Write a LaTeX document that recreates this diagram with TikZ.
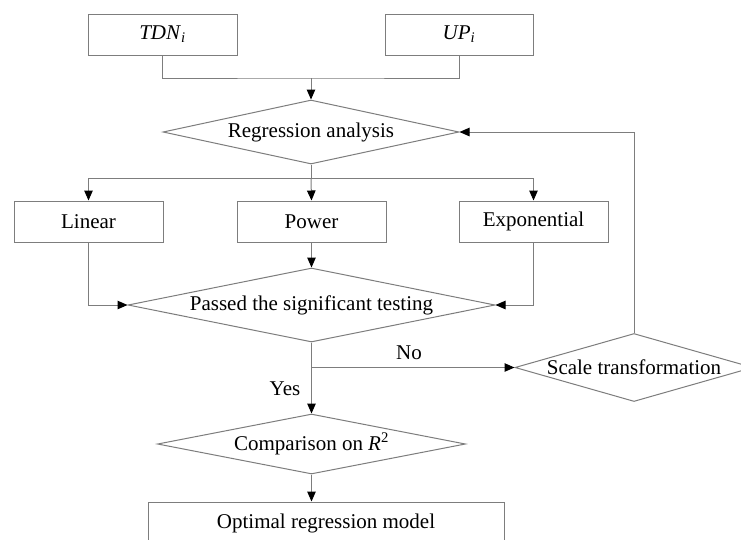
\documentclass[tikz,border=0pt]{standalone}
\usepackage{fontspec}
\setmainfont{Liberation Serif}
\usetikzlibrary{shapes.geometric,arrows.meta}
\definecolor{ln}{RGB}{125,125,125}
\begin{document}
\begin{tikzpicture}[x=1pt,y=-1pt,
  font=\fontsize{21}{25}\selectfont,
  box/.style={draw=ln,line width=1pt,rectangle,inner sep=0pt,minimum width=149pt,minimum height=41pt},
  dia/.style={draw=ln,line width=1pt,diamond,inner sep=0pt,aspect=1},
  con/.style={draw=ln,line width=1pt},
  arr/.style={draw=ln,line width=1pt,-{Triangle[length=10pt,width=8.5pt,color=black]}}
]
\useasboundingbox[fill=white] (0,0) rectangle (741,539);
% nodes
\node[box] (tdn) at (162.5,34.5) {\textit{TDN}\textsubscript{\textit{i}}};
\node[box,minimum width=148pt] (up) at (459,34.5) {\textit{UP}\textsubscript{\textit{i}}};
\node[dia,minimum width=296pt,minimum height=64pt] (reg) at (311,132) {\makebox[0pt][c]{Regression analysis}};
\node[box] (lin) at (88.5,221.5) {Linear};
\node[box] (pow) at (311.5,221.5) {Power};
\node[box] (exp) at (533.5,221.5) {Exponential};
\node[dia,minimum width=367pt,minimum height=74pt] (pass) at (311.5,305) {\makebox[0pt][c]{Passed the significant testing}};
\node[dia,minimum width=238pt,minimum height=68pt] (scale) at (634,367.5) {\makebox[0pt][c]{Scale transformation}};
\node[dia,minimum width=308pt,minimum height=60pt] (comp) at (311.5,444) {\makebox[0pt][c]{Comparison on \textit{R}\textsuperscript{2}}};
\node[box,minimum width=356pt,minimum height=42pt] (opt) at (326,523) {Optimal regression model};
% helper coordinates
\coordinate (j) at (311,78);
\coordinate (k) at (311,178);
% connectors
\draw[con] (tdn.south) |- (j) -| (up.south);
\draw[arr] (j) -- (reg.north);
\draw[con] (reg.south) -- (k);
\draw[arr] (k) -| (lin.north);
\draw[arr] (k) -- (pow.north);
\draw[arr] (k) -| (exp.north);
\draw[arr] (lin.south) |- (pass.west);
\draw[arr] (pow.south) -- (pass.north);
\draw[arr] (exp.south) |- (pass.east);
\draw[arr] (pass.south) |- (scale.west);
\draw[arr] (pass.south) -- (comp.north);
\draw[arr] (scale.north) |- (reg.east);
\draw[arr] (comp.south) -- (comp.south |- opt.north);
% labels
\node (no) at (409,353) {No};
\node (yes) at (285,389) {Yes};
\end{tikzpicture}
\end{document}
